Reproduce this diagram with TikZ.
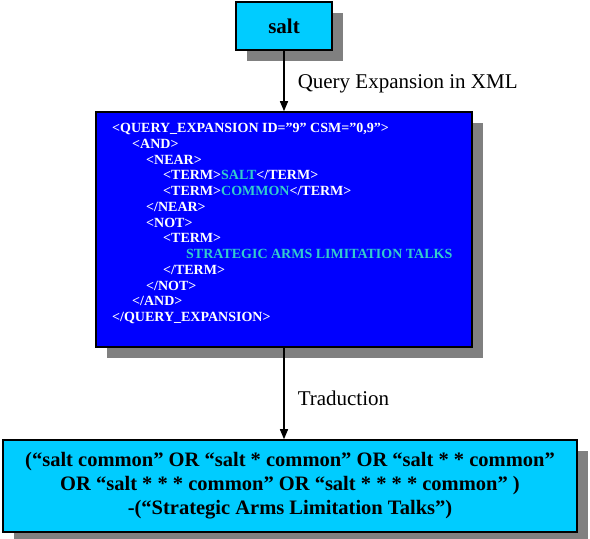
\documentclass[tikz,border=0pt]{standalone}
\usepackage{fontspec}
\setmainfont{Liberation Serif}
\usetikzlibrary{shadows,arrows.meta}
\definecolor{boxcyan}{RGB}{0,204,255}
\definecolor{xmlblue}{RGB}{0,0,255}
\definecolor{termcyan}{RGB}{51,204,204}
\definecolor{shadegray}{RGB}{128,128,128}
\newcommand{\term}[1]{\textcolor{termcyan}{#1}}

\begin{document}
\begin{tikzpicture}[x=1pt,y=-1pt,
    box/.style={draw=black,line width=1.6pt,inner sep=0pt,
      drop shadow={shadow xshift=11pt,shadow yshift=-11pt,fill=shadegray,opacity=1}},
    flow/.style={line width=1.5pt,-{Triangle[length=10pt,width=8pt]}},
    lbl/.style={right,font=\fontsize{21}{24}\selectfont,inner sep=0pt}]
   \useasboundingbox (0,0) rectangle (590,539);
   \node[box,fill=boxcyan,minimum width=96pt,minimum height=48pt,
         font=\fontsize{21}{24}\selectfont\bfseries] (salt) at (284,26) {salt};
   \node[box,fill=xmlblue,minimum width=376pt,minimum height=235pt] (xml) at (284,229.5) {};
   \node[anchor=north west,inner sep=0pt,align=left,text=white,
         font=\fontsize{14}{15.75}\selectfont\bfseries] (xmltext) at (112,123)
     {<QUERY\_EXPANSION ID=”9” CSM=”0,9”>\\
      \hspace*{20pt}<AND>\\
      \hspace*{34pt}<NEAR>\\
      \hspace*{51pt}<TERM>\term{SALT}</TERM>\\
      \hspace*{51pt}<TERM>\term{COMMON}</TERM>\\
      \hspace*{34pt}</NEAR>\\
      \hspace*{34pt}<NOT>\\
      \hspace*{51pt}<TERM>\\
      \hspace*{74pt}\term{STRATEGIC ARMS LIMITATION TALKS}\\
      \hspace*{51pt}</TERM>\\
      \hspace*{34pt}</NOT>\\
      \hspace*{20pt}</AND>\\
      </QUERY\_EXPANSION>};
   \node[box,fill=boxcyan,minimum width=574pt,minimum height=92pt,align=center,
         font=\fontsize{20.5}{24}\selectfont\bfseries] (query) at (290,486)
     {(“salt common” OR “salt * common” OR “salt * * common”\\
      OR “salt * * * common” OR “salt * * * * common” )\\
      -(“Strategic Arms Limitation Talks”)};
   \coordinate (qtop) at (xml.south |- query.north);
   \draw[flow] (salt) -- node[lbl,xshift=13pt,pos=0.55] {Query Expansion in XML} (xml);
   \draw[flow] (xml.south) -- node[lbl,xshift=13pt,pos=0.55] {Traduction} (qtop);
\end{tikzpicture}
\end{document}
